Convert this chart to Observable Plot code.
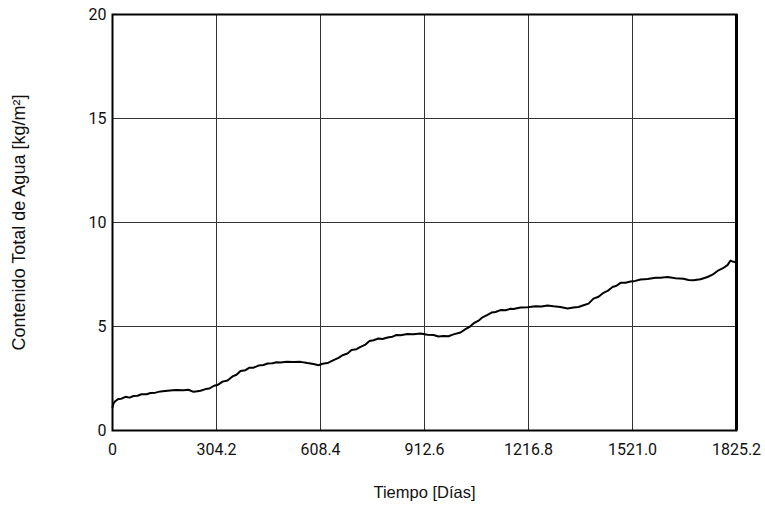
<!DOCTYPE html>
<html>
<head>
<meta charset="utf-8">
<script src="https://cdn.jsdelivr.net/npm/d3@7"></script>
<script src="https://cdn.jsdelivr.net/npm/@observablehq/plot@0.6"></script>
<style>
  html, body { margin: 0; padding: 0; background: #fff; }
  #chart svg { display: block; }
</style>
</head>
<body>
<div id="chart"></div>
<script>
const days = [0, 2.9, 8.8, 17.6, 26.3, 38.0, 49.7, 61.4, 73.1, 84.8, 99.5, 111.2, 125.8, 140.4, 160.9, 184.3, 207.7, 222.3, 236.9, 248.6,
  257.4, 272.0, 283.7, 295.4, 310.1, 321.8, 336.4, 351.0, 362.7, 374.4, 389.0, 400.7, 412.4, 427.1, 441.7, 453.4, 468.0, 479.7, 491.4, 509.0,
  529.4, 549.9, 570.4, 587.9, 602.6, 614.3, 628.9, 646.4, 661.1, 672.8, 687.4, 699.1, 713.7, 725.4, 740.0, 751.7, 763.4, 778.1, 789.8, 804.4,
  819.0, 830.7, 842.4, 862.9, 880.4, 900.9, 921.4, 938.9, 953.6, 968.2, 982.8, 997.4, 1017.9, 1032.5, 1044.2, 1055.9, 1070.6, 1082.3, 1096.9, 1108.6,
  1120.3, 1134.9, 1149.5, 1164.2, 1172.9, 1193.4, 1213.9, 1237.3, 1254.8, 1272.4, 1289.9, 1310.4, 1330.9, 1348.4, 1363.1, 1377.7, 1392.3, 1406.9, 1421.6, 1436.2,
  1447.9, 1462.5, 1474.2, 1485.9, 1500.5, 1515.2, 1523.9, 1544.4, 1564.9, 1588.3, 1602.9, 1623.4, 1646.8, 1670.2, 1684.8, 1699.4, 1719.9, 1740.4, 1755.0, 1769.6,
  1784.3, 1798.9, 1807.7, 1816.4, 1825.2];
const water = [1.12, 1.30, 1.42, 1.52, 1.53, 1.62, 1.58, 1.66, 1.67, 1.74, 1.74, 1.80, 1.82, 1.88, 1.91, 1.95, 1.94, 1.96, 1.86, 1.89,
  1.91, 1.99, 2.02, 2.14, 2.21, 2.35, 2.40, 2.60, 2.68, 2.86, 2.90, 3.02, 3.02, 3.12, 3.15, 3.22, 3.23, 3.28, 3.27, 3.31,
  3.29, 3.30, 3.24, 3.20, 3.14, 3.21, 3.24, 3.38, 3.49, 3.62, 3.70, 3.87, 3.91, 4.02, 4.13, 4.30, 4.34, 4.42, 4.40, 4.47,
  4.51, 4.59, 4.58, 4.64, 4.63, 4.66, 4.60, 4.59, 4.52, 4.54, 4.53, 4.62, 4.71, 4.87, 4.98, 5.15, 5.28, 5.44, 5.56, 5.67,
  5.70, 5.79, 5.78, 5.85, 5.84, 5.91, 5.92, 5.97, 5.96, 6.01, 5.97, 5.94, 5.87, 5.91, 5.94, 6.02, 6.10, 6.34, 6.43, 6.62,
  6.71, 6.90, 6.96, 7.10, 7.10, 7.16, 7.17, 7.26, 7.28, 7.34, 7.34, 7.38, 7.32, 7.30, 7.24, 7.22, 7.27, 7.38, 7.49, 7.67,
  7.79, 7.95, 8.17, 8.11, 8.09];
const xTicks = [0, 304.2, 608.4, 912.6, 1216.8, 1521.0, 1825.2];
const yTicks = [0, 5, 10, 15, 20];
const xTitle = "Tiempo [Días]";
const yTitle = "Contenido Total de Agua [kg/m²]";

const series = days.map((d, i) => ({day: d, value: water[i]}));

const chart = Plot.plot({
  width: 765,
  height: 506,
  marginLeft: 112,
  marginRight: 29,
  marginTop: 14,
  marginBottom: 76,
  style: {fontFamily: "Roboto, sans-serif", fontSize: "16px", color: "#111", background: "#fff"},
  x: {domain: [0, 1825.2]},
  y: {domain: [0, 20]},
  marks: [
    Plot.ruleX(xTicks, {stroke: "#333", strokeWidth: 1}),
    Plot.ruleY(yTicks, {stroke: "#333", strokeWidth: 1}),
    Plot.axisX(xTicks, {tickSize: 0, tickPadding: 13, fontSize: 16, label: null,
      tickFormat: d => d === 0 ? "0" : d.toFixed(1)}),
    Plot.axisY(yTicks, {tickSize: 0, tickPadding: 6, fontSize: 16, label: null}),
    Plot.line(series, {x: "day", y: "value", stroke: "#000", strokeWidth: 2}),
    Plot.frame({stroke: "#000", strokeWidth: 2}),
    Plot.ruleX([1825.2], {stroke: "#000", strokeWidth: 3}),
    Plot.text([xTitle], {frameAnchor: "bottom", dy: 62, text: d => d, fontSize: 16.5, fontFamily: "'Liberation Sans', Arial, sans-serif", lineAnchor: "middle", textAnchor: "middle"}),
    Plot.text([yTitle], {frameAnchor: "left", dx: -93, rotate: -90, text: d => d, fontSize: 18, fontFamily: "'Liberation Sans', Arial, sans-serif", lineAnchor: "middle", textAnchor: "middle"})
  ]
});
document.getElementById("chart").append(chart);
</script>
</body>
</html>
